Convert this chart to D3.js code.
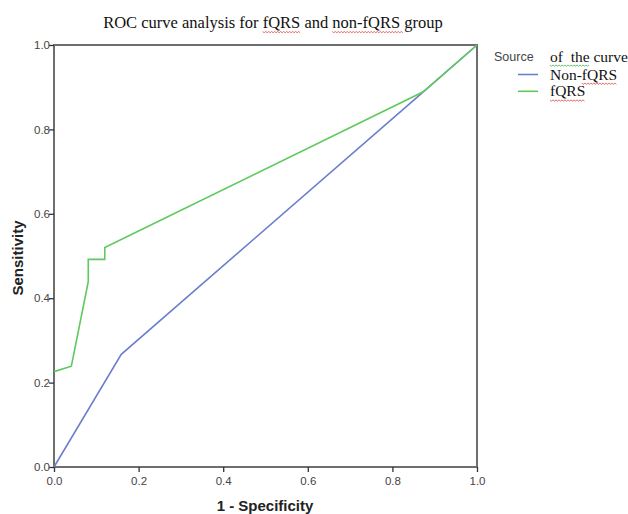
<!DOCTYPE html>
<html>
<head>
<meta charset="utf-8">
<style>
  body { margin: 0; background: #fff; }
  svg { display: block; }
</style>
</head>
<body>
<script src="https://cdn.jsdelivr.net/npm/d3@7"></script>
<script>
// ROC curve data (1 - specificity, sensitivity)
var nonFqrsX = [0, 0.159, 0.873, 1];
var nonFqrsY = [0, 0.267, 0.889, 1];
var fqrsX = [0, 0.041, 0.081, 0.081, 0.12, 0.12, 0.873, 1];
var fqrsY = [0.226, 0.239, 0.439, 0.492, 0.492, 0.52, 0.889, 1];
var seriesNames = ["Non-fQRS", "fQRS"];
var seriesColors = ["#6b7fcc", "#5ec95e"];
var tickValues = [0, 0.2, 0.4, 0.6, 0.8, 1.0];

var width = 628, height = 514;
var margin = { top: 45, right: 151, bottom: 47, left: 54 };

var svg = d3.select("body").append("svg")
  .attr("width", width)
  .attr("height", height);

var x = d3.scaleLinear().domain([0, 1]).range([margin.left, width - margin.right]);
var y = d3.scaleLinear().domain([0, 1]).range([height - margin.bottom, margin.top]);

// frame
svg.append("rect")
  .attr("x", x(0)).attr("y", y(1))
  .attr("width", x(1) - x(0)).attr("height", y(0) - y(1))
  .attr("fill", "none").attr("stroke", "#6e6e6e").attr("stroke-width", 2);

var fmt = d3.format(".1f");
var xAxis = svg.append("g")
  .attr("transform", `translate(0,${y(0)})`)
  .call(d3.axisBottom(x).tickValues(tickValues).tickFormat(fmt).tickSize(5).tickSizeOuter(0));
var yAxis = svg.append("g")
  .attr("transform", `translate(${x(0)},0)`)
  .call(d3.axisLeft(y).tickValues(tickValues).tickFormat(fmt).tickSize(5).tickSizeOuter(0));
[xAxis, yAxis].forEach(g => {
  g.select(".domain").remove();
  g.selectAll("line").attr("stroke", "#333").attr("stroke-width", 1.3);
  g.selectAll("text").attr("fill", "#444").attr("font-family", "Liberation Sans, Arial, sans-serif").attr("font-size", 11.5);
});
xAxis.selectAll("text").attr("dy", "0.85em");
yAxis.selectAll("text").attr("x", -4);

// lines
var line = d3.line().x(d => x(d[0])).y(d => y(d[1]));
var series = [d3.zip(nonFqrsX, nonFqrsY), d3.zip(fqrsX, fqrsY)];
svg.append("g").selectAll("path")
  .data(series)
  .join("path")
  .attr("d", line)
  .attr("fill", "none")
  .attr("stroke", (d, i) => seriesColors[i])
  .attr("stroke-width", 1.6);

// axis titles
svg.append("text")
  .attr("x", 265).attr("y", 511)
  .attr("text-anchor", "middle")
  .attr("font-family", "Liberation Sans, Arial, sans-serif")
  .attr("font-weight", "bold").attr("font-size", 15).attr("fill", "#222")
  .text("1 - Specificity");
svg.append("text")
  .attr("transform", `translate(23,${(y(0) + y(1)) / 2 + 2}) rotate(-90)`)
  .attr("text-anchor", "middle")
  .attr("font-family", "Liberation Sans, Arial, sans-serif")
  .attr("font-weight", "bold").attr("font-size", 15).attr("fill", "#222")
  .text("Sensitivity");

// wavy underline helper (spell check marks), drawn next to the text
function squiggle(t, from, len, color) {
  var el = t.node();
  var s = el.getStartPositionOfChar(from);
  var e = el.getEndPositionOfChar(from + len - 1);
  var yy = s.y + 3.5, pts = [];
  for (var px = s.x, k = 0; px <= e.x; px += 1.5, k++) pts.push([px, yy + (k % 2 ? 1.2 : 0)]);
  d3.select(el.parentNode).append("path").attr("d", d3.line()(pts))
    .attr("fill", "none").attr("stroke", color).attr("stroke-width", 0.8);
}

// chart title
var title = svg.append("text")
  .attr("x", 273).attr("y", 28)
  .attr("text-anchor", "middle")
  .attr("font-family", "Liberation Serif, Times New Roman, serif")
  .attr("font-size", 16.5).attr("fill", "#111")
  .text("ROC curve analysis for fQRS and non-fQRS group");
squiggle(title, 23, 4, "#e04040");
squiggle(title, 32, 9, "#e04040");

// legend
svg.append("text")
  .attr("x", 494).attr("y", 61)
  .attr("font-family", "Liberation Sans, Arial, sans-serif")
  .attr("font-size", 12.5).attr("fill", "#444")
  .text("Source");
var ofCurve = svg.append("text")
  .attr("x", 550).attr("y", 61.5)
  .attr("font-family", "Liberation Serif, Times New Roman, serif")
  .attr("font-size", 15.5).attr("fill", "#111")
  .attr("xml:space", "preserve")
  .text("of  the curve");
squiggle(ofCurve, 0, 7, "#4caf50");

var leg = svg.append("g").selectAll("g")
  .data(seriesNames)
  .join("g")
  .attr("transform", (d, i) => `translate(0,${74.5 + i * 16.8})`);
leg.append("line")
  .attr("x1", 518).attr("x2", 538)
  .attr("stroke", (d, i) => seriesColors[i]).attr("stroke-width", 1.6);
leg.append("text")
  .attr("x", 550).attr("dy", "0.33em")
  .attr("font-family", "Liberation Serif, Times New Roman, serif")
  .attr("font-size", 15.5).attr("fill", "#111")
  .text(d => d)
  .each(function(d) {
    var n = d.indexOf("fQRS") >= 0 ? d.indexOf("fQRS") : 0;
    squiggle(d3.select(this), n, 4, "#e04040");
  });
</script>
</body>
</html>
